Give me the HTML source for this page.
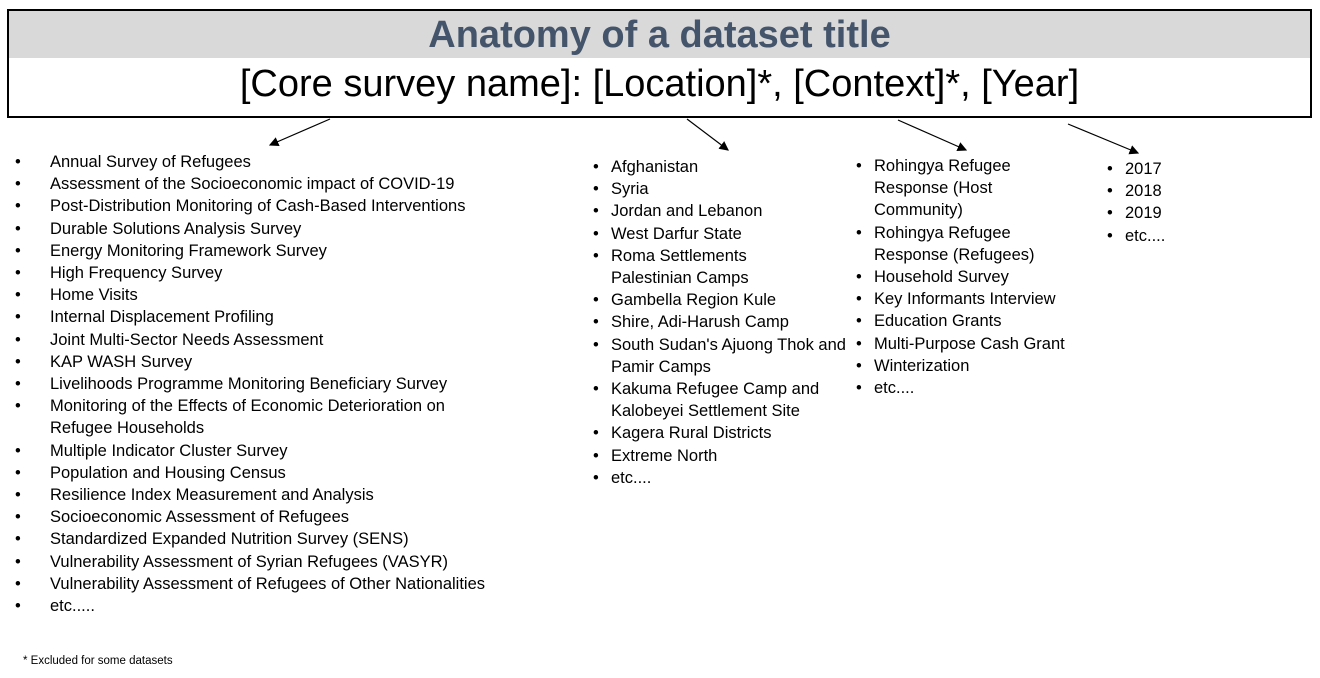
<!DOCTYPE html>
<html><head><meta charset="utf-8"><style>
body{margin:0;width:1320px;height:678px;background:#fff;position:relative;overflow:hidden;font-family:"Liberation Sans",sans-serif;}
#box{position:absolute;left:7px;top:9px;width:1305px;height:109px;border:2px solid #000;box-sizing:border-box;}
#band{position:absolute;left:0;top:0;right:0;height:47px;background:#d9d9d9;}
#title{position:absolute;left:0;right:0;top:3px;text-align:center;font-weight:bold;font-size:38px;color:#44546a;}
#sub{position:absolute;left:0;right:0;top:52px;text-align:center;font-size:38px;color:#000;}
ul{position:absolute;margin:0;padding:0;list-style:none;font-size:16.5px;line-height:22.2px;color:#000;}
li{position:relative;}
li::before{content:"•";position:absolute;}
#c1{left:50px;top:151px;width:520px;white-space:nowrap}#c1 li::before{left:-35px}
#c2{left:611px;top:156px;width:250px}#c2 li::before{left:-18px}
#c3{left:874px;top:155px;width:220px}#c3 li::before{left:-18px}
#c4{left:1125px;top:158px;width:100px}#c4 li::before{left:-18px}
#foot{position:absolute;left:23px;top:655px;font-size:11.5px;}
svg{position:absolute;left:0;top:0}
</style></head><body>
<div id="box">
<div id="band"></div>
<div id="title">Anatomy of a dataset title</div>
<div id="sub">[Core survey name]: [Location]*, [Context]*, [Year]</div>
</div>
<svg width="1320" height="678">
<defs><marker id="a" markerWidth="8" markerHeight="8" refX="7" refY="4" orient="auto"><path d="M0,0L8,4L0,8z" fill="#000"/></marker></defs>
<g stroke="#000" stroke-width="1.2" marker-end="url(#a)">
<line x1="330" y1="119" x2="270" y2="145"/>
<line x1="687" y1="119" x2="728" y2="150"/>
<line x1="898" y1="120" x2="966" y2="150"/>
<line x1="1068" y1="124" x2="1138" y2="153"/>
</g></svg>
<ul id="c1">
<li>Annual Survey of Refugees</li><li>Assessment of the Socioeconomic impact of COVID-19</li><li>Post-Distribution Monitoring of Cash-Based Interventions</li><li>Durable Solutions Analysis Survey</li><li>Energy Monitoring Framework Survey</li><li>High Frequency Survey</li><li>Home Visits</li><li>Internal Displacement Profiling</li><li>Joint Multi-Sector Needs Assessment</li><li>KAP WASH Survey</li><li>Livelihoods Programme Monitoring Beneficiary Survey</li><li>Monitoring of the Effects of Economic Deterioration on<br>Refugee Households</li><li>Multiple Indicator Cluster Survey</li><li>Population and Housing Census</li><li>Resilience Index Measurement and Analysis</li><li>Socioeconomic Assessment of Refugees</li><li>Standardized Expanded Nutrition Survey (SENS)</li><li>Vulnerability Assessment of Syrian Refugees (VASYR)</li><li>Vulnerability Assessment of Refugees of Other Nationalities</li><li>etc.....</li>
</ul>
<ul id="c2">
<li>Afghanistan</li><li>Syria</li><li>Jordan and Lebanon</li><li>West Darfur State</li><li>Roma Settlements<br>Palestinian Camps</li><li>Gambella Region Kule</li><li>Shire, Adi-Harush Camp</li><li>South Sudan's Ajuong Thok and<br>Pamir Camps</li><li>Kakuma Refugee Camp and<br>Kalobeyei Settlement Site</li><li>Kagera Rural Districts</li><li>Extreme North</li><li>etc....</li>
</ul>
<ul id="c3">
<li>Rohingya Refugee<br>Response (Host<br>Community)</li><li>Rohingya Refugee<br>Response (Refugees)</li><li>Household Survey</li><li>Key Informants Interview</li><li>Education Grants</li><li>Multi-Purpose Cash Grant</li><li>Winterization</li><li>etc....</li>
</ul>
<ul id="c4">
<li>2017</li><li>2018</li><li>2019</li><li>etc....</li>
</ul>
<div id="foot">* Excluded for some datasets</div>
</body></html>
